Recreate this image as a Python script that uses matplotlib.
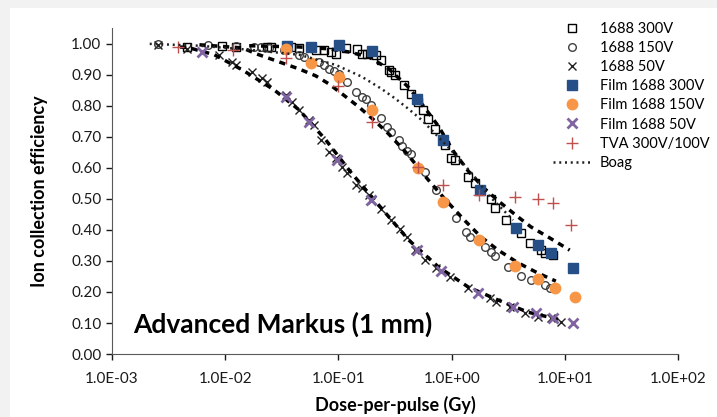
import matplotlib
matplotlib.use('Agg')
import matplotlib.pyplot as plt
from matplotlib.patches import Rectangle

plt.rcParams['font.family'] = ['Lato', 'DejaVu Sans']

# 1688 chamber, measured
d300 = [0.0046, 0.0093, 0.0125, 0.0235, 0.0255, 0.038, 0.045, 0.063, 0.074, 0.086, 0.095,
        0.116, 0.145, 0.161, 0.178, 0.213, 0.236, 0.277, 0.294, 0.319, 0.376, 0.433, 0.509,
        0.562, 0.622, 0.718, 0.879, 0.99, 1.08, 1.40, 1.61, 2.23, 2.42, 3.02, 3.70, 4.09,
        4.91, 6.12, 6.64, 7.8]
e300 = [0.990, 0.994, 0.990, 0.990, 0.990, 0.990, 0.987, 0.981, 0.981, 0.974, 0.968,
        0.987, 0.984, 0.968, 0.968, 0.965, 0.948, 0.916, 0.910, 0.900, 0.868, 0.839, 0.813,
        0.787, 0.758, 0.726, 0.674, 0.632, 0.626, 0.571, 0.552, 0.500, 0.471, 0.432, 0.406, 0.390,
        0.358, 0.335, 0.326, 0.319]

d150 = [0.00254, 0.00699, 0.0125, 0.0181, 0.0208, 0.0244, 0.0331, 0.045, 0.0497, 0.0673,
        0.074, 0.0824, 0.0912, 0.101, 0.119, 0.142, 0.161, 0.174, 0.193, 0.236, 0.266, 0.294,
        0.340, 0.361, 0.399, 0.433, 0.509, 0.586, 0.733, 0.879, 1.10, 1.34, 1.46, 1.71, 1.97,
        2.23, 2.42, 3.14, 4.09, 5.01, 6.64, 7.35]
e150 = [1.000, 0.997, 0.994, 0.990, 0.990, 0.987, 0.981, 0.965, 0.958, 0.942,
        0.932, 0.919, 0.913, 0.903, 0.877, 0.845, 0.829, 0.823, 0.803, 0.761, 0.732, 0.716,
        0.690, 0.671, 0.655, 0.645, 0.600, 0.587, 0.529, 0.490, 0.439, 0.394, 0.377, 0.368, 0.345,
        0.329, 0.316, 0.281, 0.252, 0.239, 0.223, 0.213]

d50 = [0.00254, 0.0046, 0.00889, 0.0116, 0.0125, 0.0173, 0.0212, 0.0235, 0.0345, 0.039,
       0.045, 0.055, 0.0608, 0.070, 0.0824, 0.095, 0.107, 0.119, 0.142, 0.161, 0.185, 0.196,
       0.240, 0.294, 0.353, 0.399, 0.479, 0.586, 0.733, 0.973, 1.40, 1.71, 2.18, 2.47, 3.27,
       4.43, 5.77, 7.5, 9.18]
e50 = [0.997, 0.984, 0.965, 0.942, 0.932, 0.910, 0.890, 0.877, 0.835, 0.813,
       0.787, 0.755, 0.739, 0.690, 0.652, 0.632, 0.603, 0.584, 0.545, 0.535, 0.513, 0.497,
       0.468, 0.432, 0.403, 0.377, 0.335, 0.303, 0.277, 0.248, 0.213, 0.197, 0.181, 0.168, 0.152,
       0.132, 0.119, 0.116, 0.103]

# film measurements
fd300 = [0.0352, 0.0571, 0.101, 0.196, 0.489, 0.843, 1.78, 3.70, 5.77, 7.50, 11.7]
fe300 = [0.994, 0.990, 0.997, 0.977, 0.823, 0.690, 0.529, 0.406, 0.352, 0.326, 0.277]
fd150 = [0.0345, 0.0571, 0.101, 0.196, 0.509, 0.843, 1.75, 3.62, 5.77, 8.13, 12.2]
fe150 = [0.984, 0.939, 0.894, 0.787, 0.600, 0.490, 0.368, 0.284, 0.242, 0.213, 0.184]
fd50 = [0.0063, 0.0345, 0.055, 0.097, 0.193, 0.489, 0.811, 1.71, 3.48, 5.54, 7.8, 11.7]
fe50 = [0.974, 0.829, 0.748, 0.626, 0.497, 0.335, 0.268, 0.197, 0.152, 0.132, 0.116, 0.100]

# TVA
tvd = [0.0038, 0.0118, 0.0345, 0.099, 0.196, 0.50, 0.843, 1.75, 3.62, 5.77, 7.8, 11.2]
tve = [0.990, 0.981, 0.955, 0.865, 0.748, 0.603, 0.545, 0.513, 0.506, 0.500, 0.487, 0.416]

# fitted curves (dashed)
fit300_d = [0.0163, 0.045, 0.0824, 0.123, 0.185, 0.277, 0.416, 0.562, 0.762, 1.03, 1.40,
            1.90, 2.57, 3.85, 5.00, 7.35, 11.0]
fit300_e = [0.994, 0.990, 0.984, 0.974, 0.958, 0.920, 0.860, 0.800, 0.735, 0.655, 0.590,
            0.537, 0.494, 0.442, 0.410, 0.374, 0.335]
fit150_d = [0.00593, 0.0142, 0.0188, 0.0299, 0.045, 0.063, 0.0824, 0.111, 0.151, 0.205, 0.277,
            0.399, 0.622, 0.898, 1.34, 1.82, 2.57, 3.85, 5.77, 8.30]
fit150_e = [0.997, 0.987, 0.968, 0.942, 0.919, 0.897, 0.871, 0.835, 0.797, 0.755, 0.710,
            0.648, 0.561, 0.494, 0.426, 0.377, 0.335, 0.294, 0.261, 0.235]
fit50_d = [0.004, 0.00484, 0.00803, 0.0142, 0.0270, 0.045, 0.0774, 0.128, 0.226, 0.416, 0.762,
           1.40, 2.57, 4.71, 9.18]
fit50_e = [0.99, 0.987, 0.965, 0.916, 0.852, 0.787, 0.690, 0.587, 0.481, 0.368, 0.281,
           0.216, 0.174, 0.135, 0.110]

boag_d = [0.00216, 0.00593, 0.0163, 0.045, 0.095, 0.161, 0.240, 0.319, 0.416, 0.541, 0.762,
          1.08, 1.55, 2.10, 2.84, 3.48]
boag_e = [1.000, 0.994, 0.981, 0.965, 0.932, 0.894, 0.855, 0.823, 0.790, 0.755, 0.700,
          0.642, 0.577, 0.513, 0.465, 0.432]

xticks = [1e-3, 1e-2, 1e-1, 1e0, 1e1, 1e2]
xlabels = ['1.0E-03', '1.0E-02', '1.0E-01', '1.0E+00', '1.0E+01', '1.0E+02']
yticks = [0.0, 0.1, 0.2, 0.3, 0.4, 0.5, 0.6, 0.7, 0.8, 0.9, 1.0]

fig = plt.figure(figsize=(7.17, 4.17), dpi=100, facecolor='#f2f2f2')
bg = Rectangle((10/717, 0), 1, 1 - 8/417, transform=fig.transFigure,
               facecolor='white', edgecolor='none', zorder=-10)
fig.patches.append(bg)
ax = fig.add_axes([0.156, 0.151, 0.79, 0.781])
ax.set_facecolor('none')
ax.set_zorder(5)

ax.plot(d300, e300, 's', mfc='none', mec='black', ms=5.5, mew=1.0, label='1688 300V')
ax.plot(d150, e150, 'o', mfc='none', mec='#404040', ms=5.5, mew=1.0, label='1688 150V')
ax.plot(d50, e50, 'x', color='#222222', ms=5.5, mew=1.0, label='1688 50V')

dash = (0, (1.8, 1.6))
ax.plot(fit300_d, fit300_e, color='black', lw=2.5, linestyle=dash)
ax.plot(fit150_d, fit150_e, color='black', lw=2.5, linestyle=dash)
ax.plot(fit50_d, fit50_e, color='black', lw=2.5, linestyle=dash)

ax.plot(fd300, fe300, 's', color='#254f86', ms=7.5, label='Film 1688 300V')
ax.plot(fd150, fe150, 'o', color='#f79646', ms=7.5, label='Film 1688 150V')
ax.plot(fd50, fe50, 'x', color='#8064a2', ms=7.5, mew=2, label='Film 1688 50V')
ax.plot(tvd, tve, '+', color='#c0504d', ms=8, mew=1.0, label='TVA 300V/100V')
ax.plot(boag_d, boag_e, color='#222222', lw=1.8, linestyle=(0, (0.8, 1.5)), label='Boag')

ax.set_xscale('log')
ax.set_xlim(1e-3, 1e2)
ax.set_ylim(0, 1.05)
ax.set_xticks(xticks)
ax.set_xticklabels(xlabels)
ax.minorticks_off()
ax.set_yticks(yticks)
ax.set_yticklabels(['%.2f' % v for v in yticks])
ax.tick_params(axis='both', labelsize=11, colors='#1a1a1a', length=4, width=1)
ax.tick_params(axis='x', pad=9)
for t in ax.get_xticklines() + ax.get_yticklines():
    t.set_color('#595959')
for s in ['top', 'right']:
    ax.spines[s].set_visible(False)
for s in ['left', 'bottom']:
    ax.spines[s].set_color('#595959')

ax.set_xlabel('Dose-per-pulse (Gy)', fontsize=13, fontweight='bold', labelpad=7)
ax.set_ylabel('Ion collection efficiency', fontsize=13, fontweight='bold', labelpad=17)
ax.text(0.037, 0.09, 'Advanced Markus (1 mm)', transform=ax.transAxes,
        fontsize=19, fontweight='bold', va='center', ha='left')

leg = fig.legend(loc='upper left', bbox_to_anchor=(553/717, 1 - 22/417), frameon=False,
                 fontsize=10.5, handlelength=2.6, handletextpad=0.6, labelspacing=0.35,
                 borderpad=0, borderaxespad=0)
leg.set_zorder(10)

plt.savefig('out.png', dpi=100, facecolor=fig.get_facecolor())
